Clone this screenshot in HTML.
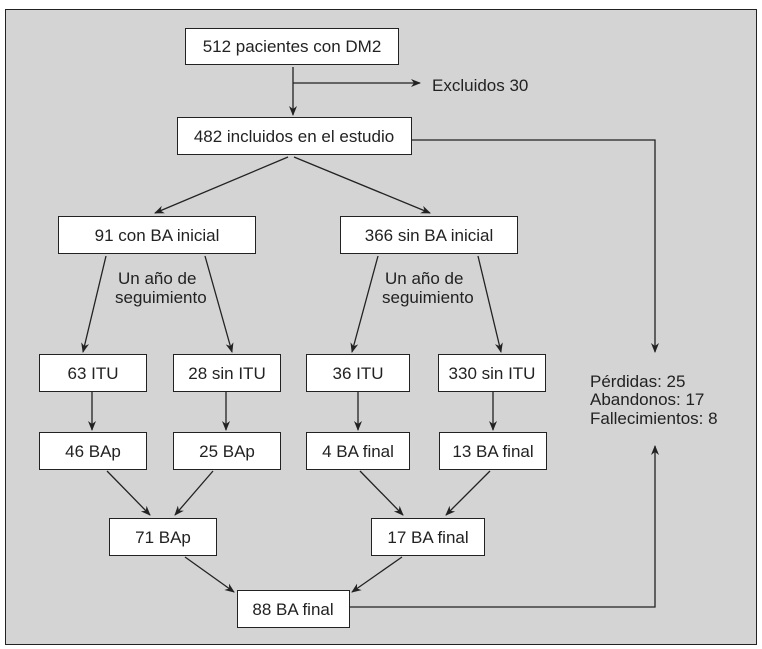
<!DOCTYPE html>
<html><head><meta charset="utf-8"><style>
html,body{margin:0;padding:0;background:#fff;}
svg{display:block;font-family:"Liberation Sans",sans-serif;}
</style></head><body>
<svg width="762" height="649" viewBox="0 0 762 649">
<defs><marker id="a" markerWidth="10" markerHeight="10" refX="9" refY="5" orient="auto" markerUnits="userSpaceOnUse"><path d="M0,1 L10,5 L0,9 L3,5 z" fill="#222"/></marker></defs>
<rect x="5.5" y="9.5" width="751" height="635" fill="#d4d4d4" stroke="#222" stroke-width="1"/>
<g fill="#fff" stroke="#222" stroke-width="1">
<rect x="185.5" y="28.5" width="213" height="36"/>
<rect x="177.5" y="117.5" width="234" height="37"/>
<rect x="58.5" y="216.5" width="197" height="37"/>
<rect x="340.5" y="216.5" width="177" height="37"/>
<rect x="39.5" y="354.5" width="107" height="37"/>
<rect x="173.5" y="354.5" width="107" height="37"/>
<rect x="306.5" y="354.5" width="103" height="37"/>
<rect x="438.5" y="354.5" width="107" height="37"/>
<rect x="39.5" y="432.5" width="107" height="37"/>
<rect x="173.5" y="432.5" width="107" height="37"/>
<rect x="306.5" y="432.5" width="103" height="37"/>
<rect x="439.5" y="432.5" width="107" height="37"/>
<rect x="109.5" y="518.5" width="107" height="37"/>
<rect x="371.5" y="518.5" width="113" height="37"/>
<rect x="237.5" y="590.5" width="112" height="37"/>
</g>
<g stroke="#222" stroke-width="1.3" fill="none" marker-end="url(#a)">
<line x1="293" y1="67" x2="293" y2="115"/>
<line x1="293" y1="83" x2="420" y2="83"/>
<polyline points="411,140 655,140 655,352"/>
<polyline points="349,607 655,607 655,446"/>
<line x1="288" y1="157" x2="155" y2="213"/>
<line x1="294" y1="157" x2="430" y2="213"/>
<line x1="106" y1="256" x2="83" y2="352"/>
<line x1="205" y1="256" x2="232" y2="352"/>
<line x1="378" y1="256" x2="352" y2="352"/>
<line x1="478" y1="256" x2="501" y2="352"/>
<line x1="92" y1="392" x2="92" y2="430"/>
<line x1="226" y1="392" x2="226" y2="430"/>
<line x1="358" y1="392" x2="358" y2="430"/>
<line x1="493" y1="392" x2="493" y2="430"/>
<line x1="107" y1="471" x2="150" y2="515"/>
<line x1="213" y1="471" x2="175" y2="515"/>
<line x1="360" y1="471" x2="403" y2="515"/>
<line x1="490" y1="471" x2="446" y2="515"/>
<line x1="185" y1="557" x2="234" y2="592"/>
<line x1="402" y1="557" x2="352" y2="592"/>
</g>
<g font-size="17" fill="#222" text-anchor="middle">
<text x="292" y="52">512 pacientes con DM2</text>
<text x="294" y="142">482 incluidos en el estudio</text>
<text x="157" y="241">91 con BA inicial</text>
<text x="429" y="241">366 sin BA inicial</text>
<text x="93" y="379">63 ITU</text>
<text x="227" y="379">28 sin ITU</text>
<text x="358" y="379">36 ITU</text>
<text x="492" y="379">330 sin ITU</text>
<text x="93" y="457">46 BAp</text>
<text x="227" y="457">25 BAp</text>
<text x="358" y="457">4 BA final</text>
<text x="493" y="457">13 BA final</text>
<text x="163" y="543">71 BAp</text>
<text x="428" y="543">17 BA final</text>
<text x="293" y="615">88 BA final</text>
</g>
<g font-size="17" fill="#222">
<text x="432" y="91">Excluidos 30</text>
<text x="118" y="284">Un año de</text>
<text x="115" y="303">seguimiento</text>
<text x="385" y="284">Un año de</text>
<text x="382" y="303">seguimiento</text>
<text x="590" y="387">Pérdidas: 25</text>
<text x="590" y="405">Abandonos: 17</text>
<text x="590" y="424">Fallecimientos: 8</text>
</g>
</svg>
</body></html>
